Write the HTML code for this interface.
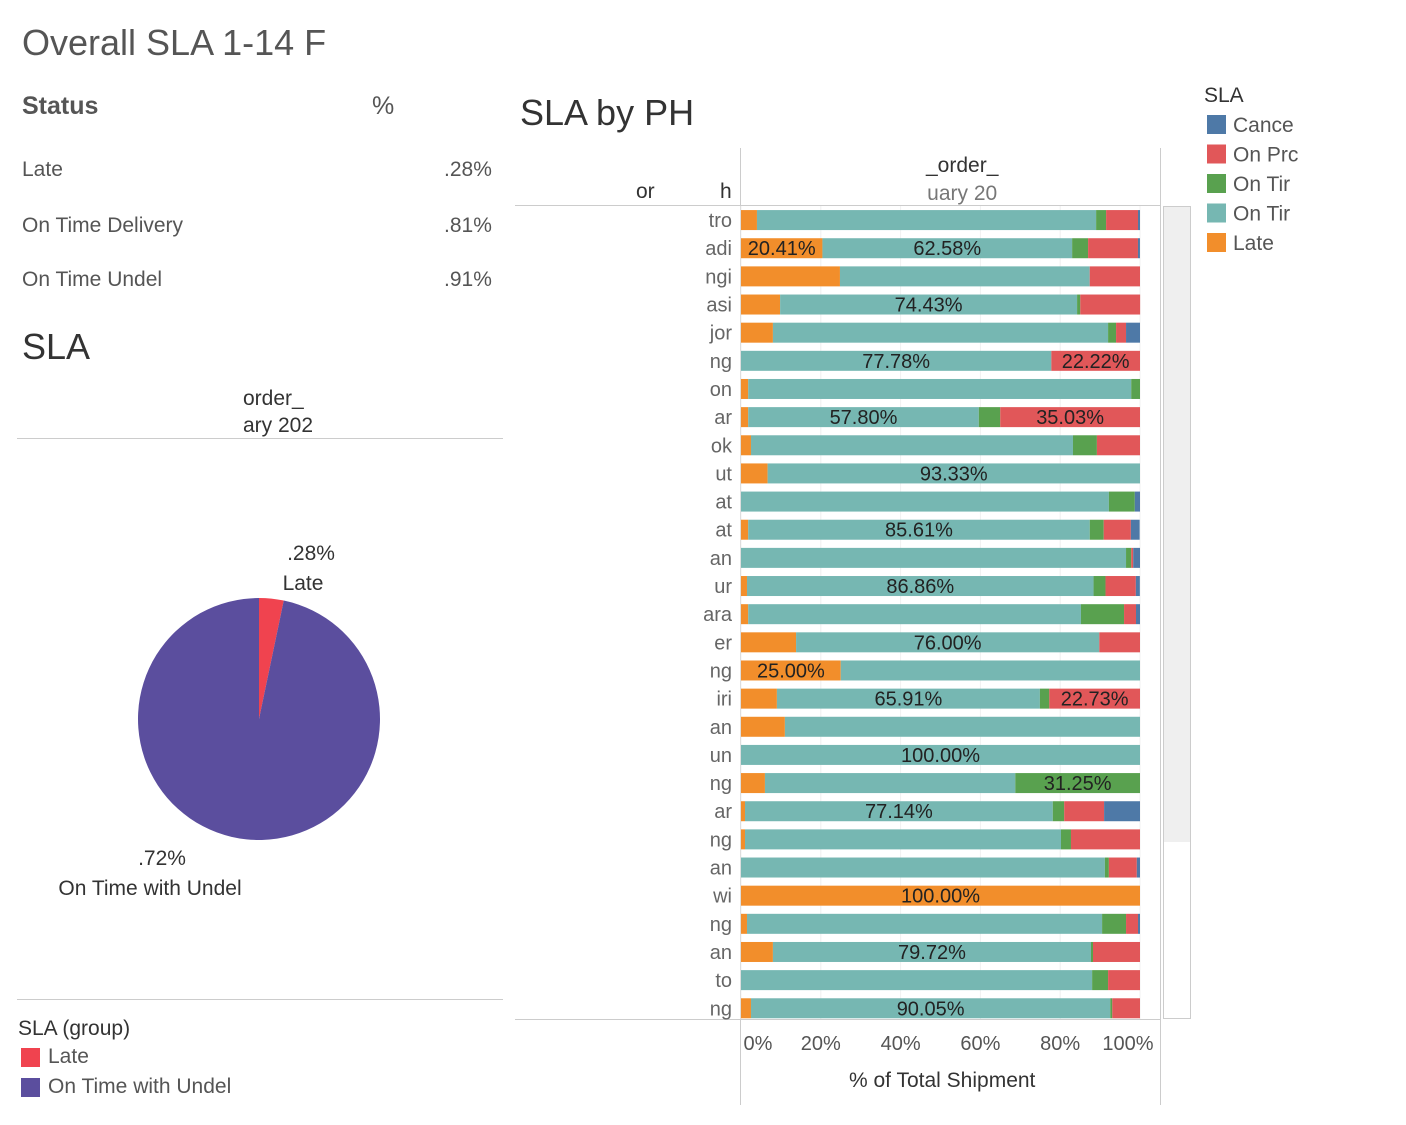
<!DOCTYPE html>
<html><head><meta charset="utf-8">
<style>
body{margin:0;background:#fff;width:1406px;height:1125px;overflow:hidden;font-family:"Liberation Sans Narrow","Liberation Sans",sans-serif;color:#555;}
.t{position:absolute;white-space:nowrap;}
</style></head>
<body>
<div class="t" style="left:22px;top:22px;font-size:36px;color:#555;">Overall SLA 1-14 F</div>
<div class="t" style="left:22px;top:92px;font-size:25px;font-weight:bold;color:#555;">Status</div>
<div class="t" style="left:372px;top:92px;font-size:25px;color:#555;">%</div>
<div class="t" style="left:22px;top:158px;font-size:21px;">Late</div>
<div class="t" style="left:444px;top:158px;font-size:21px;">.28%</div>
<div class="t" style="left:22px;top:214px;font-size:21px;">On Time Delivery</div>
<div class="t" style="left:444px;top:214px;font-size:21px;">.81%</div>
<div class="t" style="left:22px;top:268px;font-size:21px;">On Time Undel</div>
<div class="t" style="left:444px;top:268px;font-size:21px;">.91%</div>
<div class="t" style="left:22px;top:326px;font-size:36px;color:#333;">SLA</div>
<div class="t" style="left:243px;top:385px;font-size:21px;color:#333;line-height:27px;">order_<br>ary 202</div>
<div style="position:absolute;left:17px;top:438px;width:486px;height:1px;background:#ccc"></div>
<div style="position:absolute;left:17px;top:999px;width:486px;height:1px;background:#ccc"></div>
<svg style="position:absolute;left:0;top:0" width="1406" height="1125" id="pie-svg"></svg>
<div class="t" style="left:18px;top:1017px;font-size:21px;color:#333;">SLA (group)</div>
<div style="position:absolute;left:21px;top:1048px;width:19px;height:19px;background:#F0434F"></div>
<div class="t" style="left:48px;top:1045px;font-size:21px;">Late</div>
<div style="position:absolute;left:21px;top:1078px;width:19px;height:19px;background:#5B4E9E"></div>
<div class="t" style="left:48px;top:1075px;font-size:21px;">On Time with Undel</div>

<div class="t" style="left:520px;top:92px;font-size:36px;color:#333;">SLA by PH</div>
<div class="t" style="left:636px;top:180px;font-size:21px;color:#333;">or</div>
<div class="t" style="left:720px;top:180px;font-size:21px;color:#333;">h</div>
<div class="t" style="left:926px;top:152px;font-size:21px;color:#333;line-height:28px;text-align:center;">_order_<br><span style="color:#777">uary 20</span></div>
<div class="t" style="left:1204px;top:84px;font-size:21px;color:#333;">SLA</div>
<svg style="position:absolute;left:0;top:0" width="1406" height="1125" id="bar-svg"></svg>
<div class="t" style="left:849px;top:1069px;font-size:21px;color:#333;">% of Total Shipment</div>

<script>
// Pie data
const pieCats=["Late","On Time with Undel"];
const pieVals=[3.28,96.72];
const pieLabels=[".28%",".72%"];
// Bar chart data: segment order Late, On Time Undel, On Time Delivery, On Process, Cancel
const rowLabels=["tro","adi","ngi","asi","jor","ng","on","ar","ok","ut","at","at","an","ur","ara","er","ng","iri","an","un","ng","ar","ng","an","wi","ng","an","to","ng"];
const lateVals=[4,20.41,24.8,9.8,8,0,1.8,1.8,2.5,6.67,0,1.8,0,1.5,1.8,13.8,25,9,11,0,6,1,1,0,100,1.5,8,0,2.5];
const undelVals=[85,62.58,62.6,74.43,84,77.78,96,57.8,80.7,93.33,92.2,85.61,96.5,86.86,83.4,76,75,65.91,89,100,62.75,77.14,79.2,91.2,0,89,79.72,88,90.05];
const deliveredVals=[2.5,4,0,0.8,2,0,2.2,5.37,6,0,6.5,3.5,1.3,3,10.8,0,0,2.36,0,0,31.25,2.86,2.5,1,0,6,0.5,4,0.5];
const processVals=[8,12.5,12.6,15,2.5,22.22,0,35.03,10.8,0,0,6.8,0.5,7.6,3,10.2,0,22.73,0,0,0,10,17.3,7,0,3,11.78,8,6.95];
const cancelVals=[0.5,0.5,0,0,3.5,0,0,0,0,0,1.3,2.2,1.7,1,1,0,0,0,0,0,0,9,0,0.8,0,0.5,0,0,0];
const labelSegs=[[],[0,1],[],[1],[],[1,3],[],[1,3],[],[1],[],[1],[],[1],[],[1],[0],[1,3],[],[1],[2],[1],[],[],[0],[],[1],[],[1]];
const xTicks=[0,20,40,60,80,100];
const legendNames=["Cance","On Prc","On Tir","On Tir","Late"];

const NS="http://www.w3.org/2000/svg";
function mk(svg,tag,attrs){const e=document.createElementNS(NS,tag);for(const k in attrs)e.setAttribute(k,attrs[k]);svg.appendChild(e);return e;}

// Pie
const pie=document.getElementById('pie-svg');
const cx=259,cy=719,r=121,pieCols=["#F0434F","#5B4E9E"];
const tot=pieVals.reduce((a,b)=>a+b,0);
let a0=0;
pieVals.forEach((v,i)=>{
  const a1=a0+v/tot*2*Math.PI;
  const x0=cx+r*Math.sin(a0),y0=cy-r*Math.cos(a0),x1=cx+r*Math.sin(a1),y1=cy-r*Math.cos(a1);
  const p=mk(pie,'path',{d:`M${cx},${cy} L${x0},${y0} A${r},${r} 0 ${a1-a0>Math.PI?1:0} 1 ${x1},${y1} Z`,fill:pieCols[i]});
  
  
  a0=a1;
});
[[pieLabels[0],311,560],[pieCats[0],303,590],[pieLabels[1],162,865],[pieCats[1],150,895]].forEach((l,i)=>{
  const t=mk(pie,'text',{x:l[1],y:l[2],'text-anchor':'middle','font-size':21,fill:'#333','font-family':'"Liberation Sans Narrow","Liberation Sans",sans-serif'});
  t.textContent=l[0];
  
  
});

// Bars
const svg=document.getElementById('bar-svg');
const x0p=741,x100=1140,rowTop=206,rowH=28.15,barH=20;
const xs=v=>x0p+(x100-x0p)*v/100;
const cols=["#F28E2B","#76B7B2","#59A14F","#E15759","#4E79A7"];
const series=[lateVals,undelVals,deliveredVals,processVals,cancelVals];
// frame
mk(svg,'line',{x1:515,y1:205.5,x2:1160,y2:205.5,stroke:'#ccc'});
mk(svg,'line',{x1:515,y1:1019.5,x2:1160,y2:1019.5,stroke:'#ccc'});
mk(svg,'line',{x1:740.5,y1:148,x2:740.5,y2:1105,stroke:'#ccc'});
mk(svg,'line',{x1:1160.5,y1:148,x2:1160.5,y2:1105,stroke:'#ccc'});
mk(svg,'rect',{x:1163.5,y:206.5,width:27,height:812,fill:'#fff',stroke:'#ccc'});
mk(svg,'rect',{x:1164,y:207,width:26,height:635,fill:'#efefef'});
xTicks.forEach((t,i)=>{
  const g=mk(svg,'line',{x1:xs(t),y1:206,x2:xs(t),y2:1019,stroke:'#f0f0f0'});
  const tx=mk(svg,'text',{x:Math.min(Math.max(xs(t),758),1128),y:1050,'text-anchor':'middle','font-size':20,fill:'#555','font-family':'"Liberation Sans Narrow","Liberation Sans",sans-serif'});
  tx.textContent=t+'%';
  
  
});
rowLabels.forEach((lab,r)=>{
  const yc=rowTop+rowH*(r+0.5);
  const t=mk(svg,'text',{x:732,y:yc+7,'text-anchor':'end','font-size':20,fill:'#666','font-family':'"Liberation Sans Narrow","Liberation Sans",sans-serif'});
  t.textContent=lab;
  
  
  let acc=0;
  series.forEach((s,k)=>{
    const v=s[r];
    if(v>0){
      const b=mk(svg,'rect',{x:xs(acc),y:yc-barH/2,width:xs(acc+v)-xs(acc),height:barH,fill:cols[k]});
      
      
      if(labelSegs[r].includes(k)){
        const lt=mk(svg,'text',{x:(xs(acc)+xs(acc+v))/2,y:yc+7,'text-anchor':'middle','font-size':20,fill:'#222','font-family':'"Liberation Sans Narrow","Liberation Sans",sans-serif'});
        lt.textContent=v.toFixed(2)+'%';
        
        
      }
    }
    acc+=v;
  });
});
// legend
const legCols=["#4E79A7","#E15759","#59A14F","#76B7B2","#F28E2B"];
legendNames.forEach((n,i)=>{
  const y=115+i*29.5;
  const sw=mk(svg,'rect',{x:1207,y:y,width:19,height:19,fill:legCols[i]});
  
  
  const t=mk(svg,'text',{x:1233,y:y+17,'font-size':21,fill:'#555','font-family':'"Liberation Sans Narrow","Liberation Sans",sans-serif'});
  t.textContent=n;
  
  
});
</script>
</body></html>
